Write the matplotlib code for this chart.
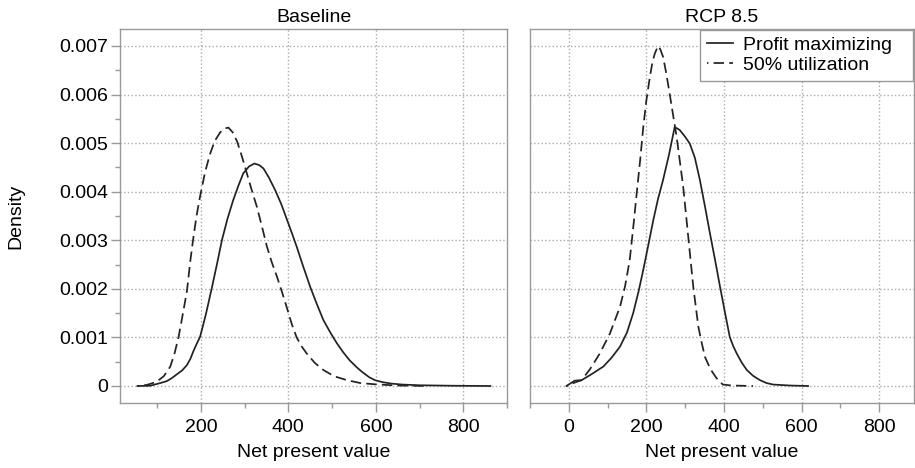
import numpy as np
import matplotlib
matplotlib.use('Agg')
import matplotlib.pyplot as plt
from matplotlib.ticker import MultipleLocator, FuncFormatter

plt.rcParams['font.family'] = ['Liberation Sans', 'DejaVu Sans']
plt.rcParams['font.size'] = 14

# density curves (x = net present value, y in units of 1e-3)
base_pm_x = [55, 84, 107, 122, 133, 145, 157, 168, 176, 183, 190, 198, 205, 212, 225, 237, 248, 261,
             274, 286, 297, 310, 322, 333, 343, 355, 370, 384, 397, 408, 419, 434, 450, 465, 480,
             496, 511, 525, 540, 557, 570, 585, 598, 615, 635, 660, 700, 780, 862]
base_pm_y = [0, 0.005, 0.06, 0.10, 0.16, 0.24, 0.32, 0.43, 0.56, 0.72, 0.86, 1.01, 1.25, 1.5, 2.02, 2.52, 3.0, 3.45,
             3.83, 4.13, 4.38, 4.52, 4.58, 4.55, 4.48, 4.3, 4.03, 3.74, 3.42, 3.15, 2.87, 2.46, 2.04, 1.69, 1.36,
             1.1, 0.88, 0.70, 0.53, 0.38, 0.28, 0.18, 0.12, 0.08, 0.05, 0.03, 0.015, 0.005, 0]

base_50_x = [55, 75, 90, 99, 115, 130, 140, 149, 158, 168, 176, 183, 190, 198, 210, 221, 232, 244, 253,
             263, 273, 283, 294, 305, 316, 328, 340, 351, 362, 374, 386, 397, 408, 419, 430, 442, 460,
             480, 505, 534, 565, 598, 650, 720]
base_50_y = [0, 0.02, 0.06, 0.09, 0.2, 0.40, 0.68, 1.01, 1.45, 1.95, 2.59, 3.07, 3.5, 3.9, 4.42, 4.78, 5.05, 5.22, 5.30,
             5.32, 5.22, 5.03, 4.72, 4.38, 4.04, 3.69, 3.27, 2.87, 2.55, 2.25, 1.92, 1.6, 1.27, 1.0, 0.82, 0.67, 0.48,
             0.33, 0.2, 0.12, 0.06, 0.035, 0.01, 0]

rcp_pm_x = [-6, 15, 33, 60, 89, 110, 132, 150, 166, 180, 192, 205, 218, 230, 243, 258, 273, 280, 286,
            300, 312, 325, 338, 351, 364, 377, 390, 403, 415, 424, 433, 446, 459, 475, 493, 510, 527, 570, 617]
rcp_pm_y = [0, 0.11, 0.12, 0.25, 0.40, 0.58, 0.81, 1.1, 1.5, 1.95, 2.39, 2.9, 3.42, 3.85, 4.24, 4.75, 5.33, 5.30, 5.27,
            5.13, 4.99, 4.7, 4.24, 3.7, 3.14, 2.6, 2.04, 1.5, 1.01, 0.82, 0.67, 0.48, 0.33, 0.21, 0.12, 0.06, 0.03, 0.01, 0]

rcp_50_x = [-6, 15, 33, 55, 80, 106, 132, 145, 157, 166, 175, 184, 192, 200, 209, 216, 222, 230, 236, 243,
            251, 260, 278, 295, 308, 321, 334, 343, 351, 365, 381, 397, 420, 475]
rcp_50_y = [0, 0.07, 0.12, 0.35, 0.67, 1.08, 1.63, 2.05, 2.59, 3.25, 3.96, 4.65, 5.33, 5.88, 6.36, 6.68, 6.85, 7.0, 6.93, 6.78,
            6.45, 6.02, 5.13, 4.10, 3.07, 2.04, 1.22, 0.88, 0.60, 0.35, 0.16, 0.03, 0.01, 0]

titles = ['Baseline', 'RCP 8.5']
labels = ['Profit maximizing', '50% utilization']

fig = plt.figure(figsize=(9.15, 4.68), dpi=100)
ax1 = fig.add_axes([120/915, 65/468, 387/915, 374/468])
ax2 = fig.add_axes([530/915, 65/468, 384/915, 374/468], sharey=ax1)

line_col = '#222222'
edge_col = '#999999'
dash = (5.2, (6, 3))

panels = [(ax1, base_pm_x, base_pm_y, base_50_x, base_50_y, (15, 900)),
          (ax2, rcp_pm_x, rcp_pm_y, rcp_50_x, rcp_50_y, (-100, 890))]

for ax, px, py, dx, dy, xl in panels:
    ax.plot(px, np.array(py) / 1000, color=line_col, lw=1.25, label=labels[0])
    ax.plot(dx, np.array(dy) / 1000, color=line_col, lw=1.25, linestyle=dash, label=labels[1])
    ax.set_xlim(*xl)
    ax.set_ylim(-0.00035, 0.00735)
    ax.xaxis.set_major_locator(MultipleLocator(200))
    ax.xaxis.set_minor_locator(MultipleLocator(100))
    ax.grid(True, which='major', color='#aaaaaa', linestyle=':', lw=1)
    for s in ax.spines.values():
        s.set_color(edge_col)
        s.set_linewidth(1)
    ax.tick_params(which='major', color=edge_col, length=6.5, width=1, pad=2)
    ax.tick_params(which='minor', color=edge_col, length=3.5, width=1)
    ax.tick_params(axis='x', which='major', pad=5)
    ax.set_xlabel('Net present value', labelpad=6)

ax1.set_title(titles[0], fontsize=14, pad=5)
ax2.set_title(titles[1], fontsize=14, pad=5)

ax1.yaxis.set_major_locator(MultipleLocator(0.001))
ax1.yaxis.set_minor_locator(MultipleLocator(0.0005))
ax1.yaxis.set_major_formatter(FuncFormatter(lambda v, p: '0' if abs(v) < 1e-9 else f'{v:.3f}'))
ax1.set_ylabel('Density', labelpad=25)

ax2.tick_params(axis='y', which='both', left=False, labelleft=False)

leg = ax2.legend(loc='upper right', bbox_to_anchor=(0.443, 0, 0.555, 0.998), mode='expand',
                 fontsize=14, frameon=True, fancybox=False, framealpha=1,
                 edgecolor=edge_col, borderaxespad=0, handlelength=1.35, handletextpad=0.5,
                 borderpad=0.35, labelspacing=0.1)
leg.get_frame().set_linewidth(1)

fig.savefig('out.png', dpi=100)
